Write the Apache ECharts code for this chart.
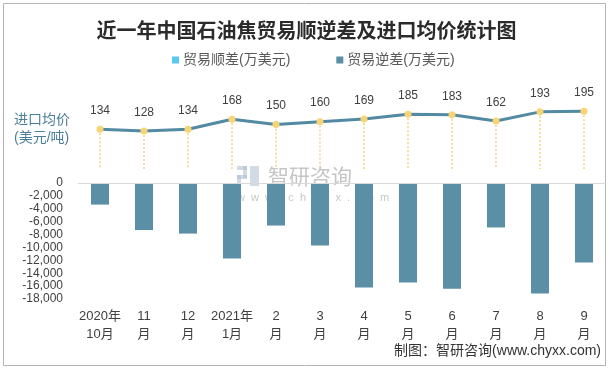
<!DOCTYPE html>
<html><head><meta charset="utf-8">
<script src="https://cdn.jsdelivr.net/npm/echarts@6/dist/echarts.min.js"></script>
<style>html,body{margin:0;padding:0;background:#fff}#c{width:613px;height:371px}</style>
</head><body><div id="c"></div>
<script>
const categories = ['2020年\n10月','11\n月','12\n月','2021年\n1月','2\n月','3\n月','4\n月','5\n月','6\n月','7\n月','8\n月','9\n月'];
const surplus = [null,null,null,null,null,null,null,null,null,null,null,null];
const deficit = [-3350,-7300,-7850,-11700,-6600,-9700,-16200,-15450,-16400,-6900,-17150,-12350];
const price = [134,128,134,168,150,160,169,185,183,162,193,195];
const yTicks = [0,-2000,-4000,-6000,-8000,-10000,-12000,-14000,-16000,-18000];

const FONT = '"Liberation Sans","Noto Sans CJK SC",sans-serif';
const chart = echarts.init(document.getElementById('c'));
const dropLines = price.map((v,i)=>[{coord:[i,v]},{coord:[i,0]}]);
chart.setOption({
  animation:false,
  textStyle:{fontFamily:FONT},
  title:{text:'近一年中国石油焦贸易顺逆差及进口均价统计图',left:'center',top:15,
    textStyle:{fontSize:20,fontWeight:'bold',color:'#2b2b2b',fontFamily:'"Noto Sans CJK SC",sans-serif'}},
  legend:{left:167,top:48,itemWidth:7,itemHeight:7,itemGap:46,icon:'rect',
    textStyle:{fontSize:14,color:'#595959',fontFamily:FONT,padding:[0,0,0,-1]},
    data:['贸易顺差(万美元)','贸易逆差(万美元)']},
  grid:[{left:78,width:528,top:183,height:116},{left:78,width:528,top:95,height:74}],
  xAxis:[
    {type:'category',gridIndex:0,data:categories,position:'bottom',
     axisLine:{show:false},axisTick:{show:false},
     axisLabel:{fontSize:13,color:'#404040',lineHeight:18,margin:8,interval:0}},
    {type:'category',gridIndex:1,data:categories,show:false}
  ],
  yAxis:[
    {type:'value',gridIndex:0,min:yTicks[yTicks.length-1],max:yTicks[0],interval:2000,
     splitLine:{show:false},axisLine:{show:false},axisTick:{show:false},
     axisLabel:{fontSize:12,color:'#404040',margin:15,
       formatter:v=>v===0?'0':v.toLocaleString('en-US')}},
    {type:'value',gridIndex:1,min:0,max:250,show:false}
  ],
  series:[
    {name:'贸易顺差(万美元)',type:'bar',xAxisIndex:0,yAxisIndex:0,data:surplus,
     barWidth:18,barGap:'-100%',itemStyle:{color:'#5BC8F2'}},
    {name:'贸易逆差(万美元)',type:'bar',xAxisIndex:0,yAxisIndex:0,data:deficit,
     barWidth:18,itemStyle:{color:'#5B8FA6'},
     markLine:{silent:true,symbol:'none',label:{show:false},
       lineStyle:{color:'#d9d9d9',type:'solid',width:1},data:[{yAxis:0}]}},
    {name:'进口均价',type:'line',xAxisIndex:1,yAxisIndex:1,data:price,
     lineStyle:{color:'#5289A3',width:3},symbol:'circle',symbolSize:7,
     itemStyle:{color:'#F7D474'},
     label:{show:true,position:'top',distance:9,fontSize:12,color:'#404040'},
     markLine:{silent:true,symbol:'none',label:{show:false},
       lineStyle:{color:'#F5D27A',type:[2,2],width:1.5},data:dropLines},
     z:3}
  ],
  graphic:[
    {type:'rect',shape:{x:3.5,y:3.5,width:602,height:362},style:{fill:'none',stroke:'#b4b4b4',lineWidth:1},silent:true},
    {type:'text',left:14,top:111,style:{text:'进口均价\n(美元/吨)',fontSize:14,lineHeight:18,fill:'#4A7F9A',fontFamily:FONT}},
    {type:'text',right:12,top:344,style:{text:'制图：智研咨询(www.chyxx.com)',fontSize:14,fill:'#333',fontFamily:FONT}},
    {type:'group',left:237,top:166,z:100,children:[
      {type:'rect',shape:{x:0,y:0,width:10,height:4},style:{fill:'rgba(170,190,210,0.55)'}},
      {type:'rect',shape:{x:6,y:0,width:4,height:12},style:{fill:'rgba(170,190,210,0.55)'}},
      {type:'rect',shape:{x:0,y:9,width:10,height:4},style:{fill:'rgba(170,190,210,0.55)'}},
      {type:'rect',shape:{x:0,y:9,width:4,height:11},style:{fill:'rgba(170,190,210,0.55)'}},
      {type:'rect',shape:{x:13,y:0,width:9,height:20},style:{fill:'rgba(170,190,210,0.55)'}},
      {type:'text',x:31,y:0,style:{text:'智研咨询',fontSize:21,fill:'rgba(150,150,150,0.55)',fontFamily:'"Noto Sans CJK SC",sans-serif'}},
      {type:'text',x:0,y:26,style:{text:'w  w  w  .  c  h  y  x  x  .  c  o  m',fontSize:11,fill:'rgba(150,150,150,0.55)',fontFamily:FONT}}
    ]}
  ]
});
</script></body></html>
